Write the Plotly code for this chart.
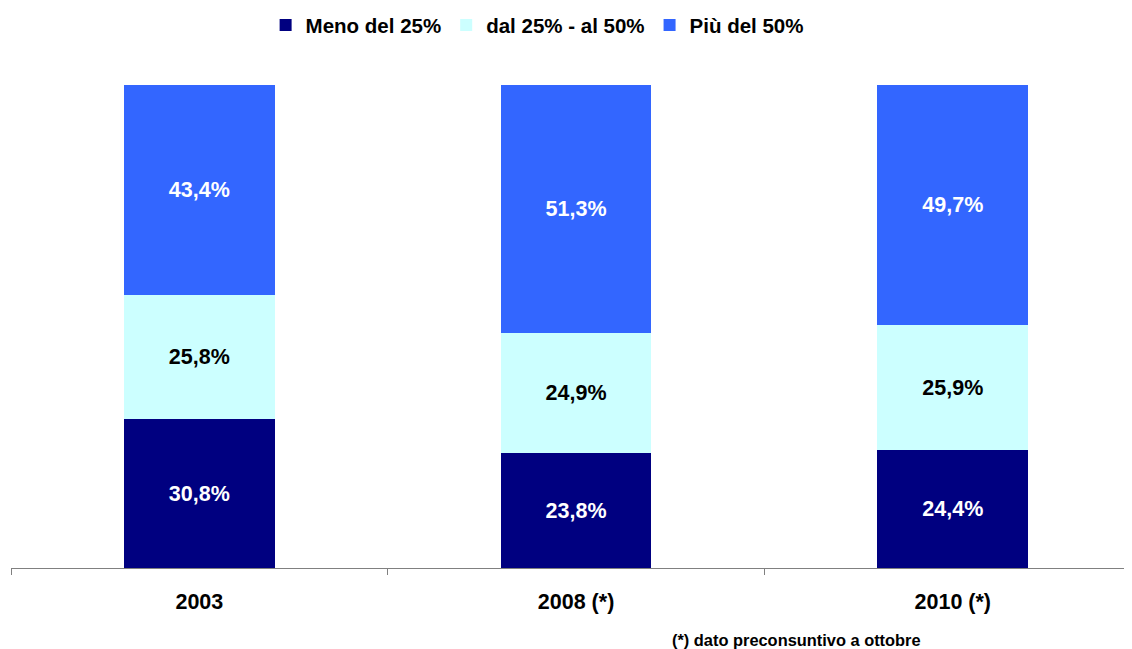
import plotly.graph_objects as go

categories = ["2003", "2008 (*)", "2010 (*)"]
series_names = ["Meno del 25%", "dal 25% - al 50%", "Più del 50%"]
meno_25 = [30.8, 23.8, 24.4]
dal_25_50 = [25.8, 24.9, 25.9]
piu_50 = [43.4, 51.3, 49.7]
colors = ["#000080", "#CCFFFF", "#3366FF"]
text_colors = ["white", "black", "white"]

FONT = "Liberation Sans, Arial, sans-serif"

fig = go.Figure()
for name, vals, col, tcol in zip(series_names, [meno_25, dal_25_50, piu_50], colors, text_colors):
    fig.add_trace(go.Bar(
        x=categories, y=vals, name="<b>" + name + "</b>",
        marker=dict(color=col, line=dict(width=0)),
        width=0.40,
        texttemplate="<b>%{y:.1f}%</b>",
        textposition="inside", insidetextanchor="middle",
        textfont=dict(family=FONT, size=21.5, color=tcol),
        hoverinfo="skip",
    ))

fig.update_layout(
    barmode="stack",
    separators=",.",
    width=1132, height=649,
    margin=dict(l=3, r=0, t=77, b=89, autoexpand=False),
    paper_bgcolor="white", plot_bgcolor="white",
    font=dict(family=FONT, color="black"),
    showlegend=True,
    legend=dict(orientation="h", x=0.466, xanchor="center", y=1.124, yanchor="middle",
                traceorder="normal", font=dict(family=FONT, size=20.5, color="black"),
                itemwidth=30, tracegroupgap=0),
    xaxis=dict(type="category", range=[-0.5, 2.497], tickson="boundaries",
               ticks="outside", ticklen=6, tickcolor="#808080", tickwidth=1,
               showline=True, linecolor="#808080", linewidth=1,
               showgrid=False, zeroline=False,
               tickvals=categories, ticktext=["<b>" + c + "</b>" for c in categories],
               tickfont=dict(family=FONT, size=21.5, color="black"),
               ticklabelstandoff=14),
    yaxis=dict(range=[0, 100], visible=False, showgrid=False, zeroline=False),
    annotations=[dict(text="<b>(*) dato preconsuntivo a ottobre</b>", xref="paper", yref="paper",
                      x=(662 - 3) / 1129, y=-(72) / 483, xanchor="left", yanchor="middle",
                      showarrow=False, font=dict(family=FONT, size=16.4, color="black"))],
)

fig.write_html("out.html")
